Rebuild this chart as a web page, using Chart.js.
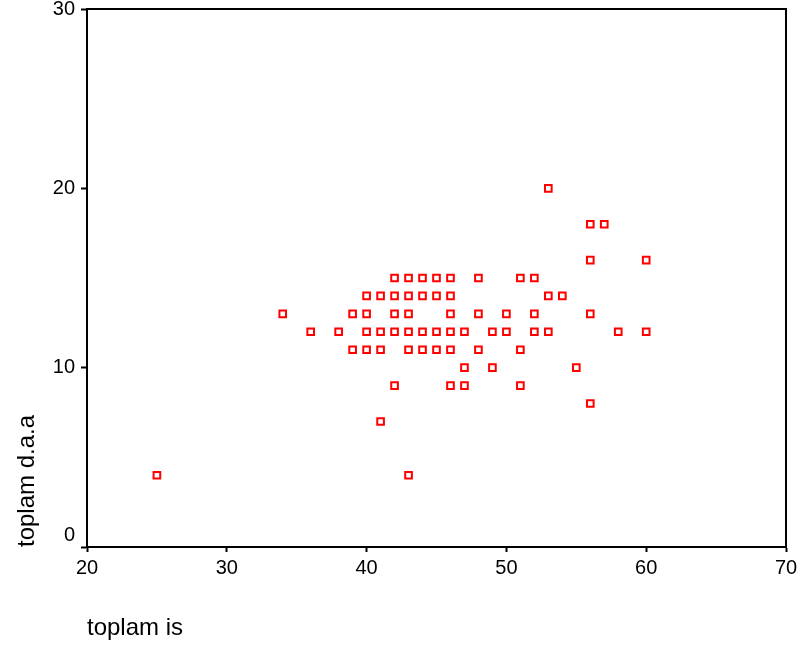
<!DOCTYPE html>
<html>
<head>
<meta charset="utf-8">
<script src="https://cdn.jsdelivr.net/npm/chart.js@4/dist/chart.umd.min.js"></script>
<style>
  html, body { margin: 0; padding: 0; background: #fff; }
  #wrap { width: 801px; height: 648px; }
</style>
</head>
<body>
<div id="wrap"><canvas id="c" width="801" height="648"></canvas></div>
<script>
// toplam is (x) and toplam d.a.a (y)
const toplamIs = [
  53,
  56, 57,
  56, 60,
  42, 43, 44, 45, 46, 48, 51, 52,
  40, 41, 42, 43, 44, 45, 46, 53, 54,
  34, 39, 40, 42, 43, 46, 48, 50, 52, 56,
  36, 38, 40, 41, 42, 43, 44, 45, 46, 47, 49, 50, 52, 53, 58, 60,
  39, 40, 41, 43, 44, 45, 46, 48, 51,
  47, 49, 55,
  42, 46, 47, 51,
  56,
  41,
  25, 43
];
const toplamDaa = [
  20,
  18, 18,
  16, 16,
  15, 15, 15, 15, 15, 15, 15, 15,
  14, 14, 14, 14, 14, 14, 14, 14, 14,
  13, 13, 13, 13, 13, 13, 13, 13, 13, 13,
  12, 12, 12, 12, 12, 12, 12, 12, 12, 12, 12, 12, 12, 12, 12, 12,
  11, 11, 11, 11, 11, 11, 11, 11, 11,
  10, 10, 10,
  9, 9, 9, 9,
  8,
  7,
  4, 4
];
const xTicks = [20, 30, 40, 50, 60, 70];
const yTicks = [0, 10, 20, 30];
const xTitle = 'toplam is';
const yTitle = 'toplam d.a.a';

const points = toplamIs.map((x, i) => ({ x: x, y: toplamDaa[i] }));

const frame = {
  id: 'frame',
  afterDraw(chart) {
    const { ctx, chartArea: a } = chart;
    ctx.save();
    ctx.strokeStyle = '#000';
    ctx.lineWidth = 2;
    ctx.beginPath();
    ctx.moveTo(a.left, a.top);
    ctx.lineTo(a.right, a.top);
    ctx.lineTo(a.right, a.bottom);
    ctx.stroke();
    ctx.restore();
  }
};

const FONT = "'Liberation Sans', Arial, Helvetica, sans-serif";

new Chart(document.getElementById('c'), {
  type: 'scatter',
  data: {
    datasets: [{
      data: points,
      pointStyle: 'rect',
      pointRadius: 4.7,
      pointHoverRadius: 4.7,
      borderWidth: 2,
      borderColor: '#ff0000',
      backgroundColor: 'rgba(255,255,255,0)'
    }]
  },
  options: {
    responsive: false,
    animation: false,
    events: [],
    layout: { padding: { top: 9, right: 15, left: 0, bottom: 0 } },
    plugins: { legend: { display: false }, tooltip: { enabled: false } },
    scales: {
      x: {
        type: 'linear',
        min: 20, max: 70,
        afterBuildTicks(s) { s.ticks = xTicks.map(v => ({ value: v })); },
        afterFit(s) { s.height = 101; s.paddingLeft = 0; s.paddingRight = 0; },
        grid: { display: true, drawOnChartArea: false, drawTicks: true, tickLength: 5, tickWidth: 2, tickColor: '#000' },
        border: { display: true, color: '#000', width: 2 },
        ticks: { color: '#000', font: { family: FONT, size: 20 }, padding: 4, maxRotation: 0 },
        title: { display: true, text: xTitle, align: 'start', color: '#000', font: { family: FONT, size: 24 }, padding: { top: 0, bottom: 5 } }
      },
      y: {
        type: 'linear',
        min: 0, max: 30,
        afterBuildTicks(s) { s.ticks = yTicks.map(v => ({ value: v })); },
        afterFit(s) { s.width = 87; s.paddingTop = 0; s.paddingBottom = 0; },
        grid: { display: true, drawOnChartArea: false, drawTicks: true, tickLength: 6, tickWidth: 2, tickColor: '#000' },
        border: { display: true, color: '#000', width: 2 },
        ticks: {
          color: '#000', font: { family: FONT, size: 20 }, padding: 6,
          callback: (v) => v === 0 ? ['0', ''] : String(v)
        },
        title: { display: true, text: yTitle, align: 'start', color: '#000', font: { family: FONT, size: 24 }, padding: { top: 13, bottom: 0 } }
      }
    }
  },
  plugins: [frame]
});
</script>
</body>
</html>
